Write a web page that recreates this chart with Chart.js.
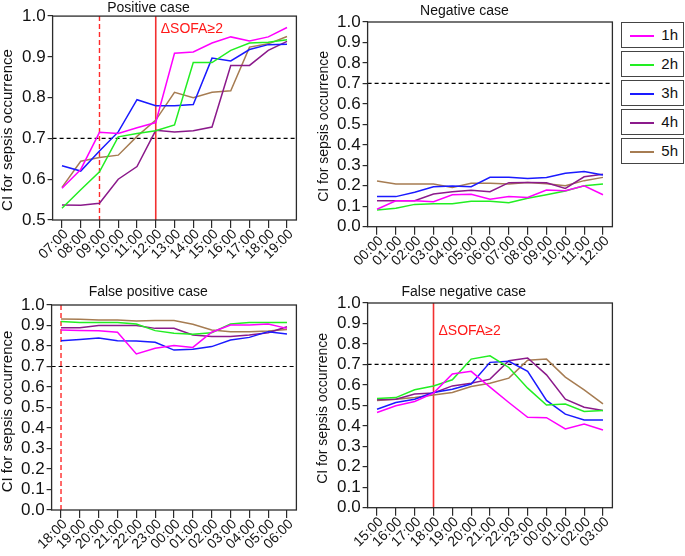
<!DOCTYPE html>
<html>
<head>
<meta charset="utf-8">
<script src="https://cdn.jsdelivr.net/npm/chart.js@4/dist/chart.umd.min.js"></script>
<style>
  body { margin: 0; background: #fff; font-family: "Liberation Sans", Arial, sans-serif; }
  #wrap { position: relative; width: 685px; height: 556px; }
  .panel { position: absolute; }
  .lg { position: absolute; left: 621px; width: 61px; height: 24px; border: 1px solid #444; box-sizing: content-box; }
  .lg span.ln { position: absolute; left: 8px; top: 12px; width: 24px; height: 1.5px; }
  .lg span.tx { position: absolute; right: 5px; top: 3px; font-size: 15px; color: #111; }
</style>
</head>
<body>
<div id="wrap">
  <div class="panel" style="left:0;top:0;width:300px;height:280px"><canvas id="pPos"></canvas></div>
  <div class="panel" style="left:300px;top:0;width:318px;height:280px"><canvas id="pNeg"></canvas></div>
  <div class="panel" style="left:0;top:280px;width:300px;height:276px"><canvas id="pFp"></canvas></div>
  <div class="panel" style="left:300px;top:280px;width:318px;height:276px"><canvas id="pFn"></canvas></div>
  <div id="legend"></div>
</div>
<script>
const seriesNames = ["1h", "2h", "3h", "4h", "5h"];
const seriesColors = ["#ff00ff", "#22ee22", "#1a1aff", "#8b1a8b", "#a67c52"];

// Positive case
const posHours = ["07:00", "08:00", "09:00", "10:00", "11:00", "12:00", "13:00", "14:00", "15:00", "16:00", "17:00", "18:00", "19:00"];
const pos1h = [0.578, 0.624, 0.715, 0.712, 0.726, 0.739, 0.909, 0.912, 0.934, 0.949, 0.939, 0.949, 0.972];
const pos2h = [0.529, 0.574, 0.618, 0.704, 0.712, 0.719, 0.733, 0.886, 0.886, 0.916, 0.934, 0.936, 0.942];
const pos3h = [0.633, 0.620, 0.669, 0.716, 0.795, 0.780, 0.780, 0.783, 0.897, 0.890, 0.918, 0.930, 0.931];
const pos4h = [0.537, 0.536, 0.541, 0.600, 0.631, 0.720, 0.716, 0.719, 0.728, 0.879, 0.879, 0.916, 0.938];
const pos5h = [0.580, 0.644, 0.653, 0.659, 0.705, 0.745, 0.813, 0.800, 0.813, 0.817, 0.924, 0.932, 0.950];

// Negative case
const negHours = ["00:00", "01:00", "02:00", "03:00", "04:00", "05:00", "06:00", "07:00", "08:00", "09:00", "10:00", "11:00", "12:00"];
const neg1h = [0.085, 0.127, 0.127, 0.122, 0.156, 0.158, 0.134, 0.147, 0.143, 0.179, 0.176, 0.200, 0.156];
const neg2h = [0.082, 0.090, 0.109, 0.112, 0.112, 0.124, 0.124, 0.117, 0.139, 0.156, 0.174, 0.200, 0.209];
const neg3h = [0.147, 0.147, 0.168, 0.195, 0.199, 0.195, 0.241, 0.241, 0.235, 0.240, 0.261, 0.270, 0.253];
const neg4h = [0.127, 0.127, 0.127, 0.160, 0.171, 0.178, 0.171, 0.215, 0.216, 0.215, 0.187, 0.244, 0.256];
const neg5h = [0.223, 0.209, 0.209, 0.209, 0.192, 0.212, 0.212, 0.209, 0.216, 0.210, 0.200, 0.225, 0.241];

// False positive case
const fpHours = ["18:00", "19:00", "20:00", "21:00", "22:00", "23:00", "00:00", "01:00", "02:00", "03:00", "04:00", "05:00", "06:00"];
const fp1h = [0.878, 0.876, 0.874, 0.867, 0.761, 0.789, 0.802, 0.793, 0.867, 0.902, 0.902, 0.907, 0.886];
const fp2h = [0.919, 0.915, 0.915, 0.915, 0.907, 0.875, 0.862, 0.857, 0.865, 0.907, 0.915, 0.915, 0.915];
const fp3h = [0.826, 0.832, 0.839, 0.826, 0.824, 0.818, 0.780, 0.784, 0.797, 0.829, 0.842, 0.870, 0.859];
const fp4h = [0.889, 0.889, 0.900, 0.900, 0.900, 0.886, 0.886, 0.854, 0.846, 0.846, 0.854, 0.865, 0.894];
const fp5h = [0.932, 0.930, 0.927, 0.927, 0.922, 0.924, 0.924, 0.906, 0.878, 0.870, 0.870, 0.873, 0.881];

// False negative case
const fnHours = ["15:00", "16:00", "17:00", "18:00", "19:00", "20:00", "21:00", "22:00", "23:00", "00:00", "01:00", "02:00", "03:00"];
const fn1h = [0.465, 0.498, 0.519, 0.560, 0.653, 0.666, 0.589, 0.514, 0.442, 0.440, 0.385, 0.409, 0.380];
const fn2h = [0.533, 0.538, 0.576, 0.595, 0.625, 0.726, 0.742, 0.685, 0.584, 0.502, 0.506, 0.470, 0.475];
const fn3h = [0.481, 0.514, 0.530, 0.563, 0.579, 0.604, 0.710, 0.715, 0.666, 0.524, 0.457, 0.429, 0.429];
const fn4h = [0.527, 0.530, 0.555, 0.560, 0.595, 0.608, 0.628, 0.718, 0.731, 0.649, 0.530, 0.491, 0.475];
const fn5h = [0.524, 0.530, 0.538, 0.551, 0.563, 0.592, 0.608, 0.633, 0.720, 0.726, 0.638, 0.576, 0.507];

const threshold = 0.7;
const sofaLabel = "\u0394SOFA\u22652";
const yTitle = "CI for sepsis occurrence";
const FONT = "'Liberation Sans', Arial, sans-serif";

/* threshold line, red markers, frame, rotated hour labels, y title */
const markers = {
    id: "markers",
    beforeDatasetsDraw(chart, args, opts) {
        const { ctx, chartArea: a, scales: { x, y } } = chart;
        ctx.save();
        ctx.lineWidth = 1.2;
        ctx.strokeStyle = "#000";
        ctx.setLineDash([4, 3]);
        const ty = y.getPixelForValue(threshold);
        ctx.beginPath();
        ctx.moveTo(a.left, ty);
        ctx.lineTo(a.right, ty);
        ctx.stroke();

        (opts.dashed || []).forEach(lbl => {
            const px = x.getPixelForValue(chart.data.labels.indexOf(lbl));
            ctx.strokeStyle = "#ff2a2a";
            ctx.lineWidth = 1.4;
            ctx.setLineDash([5, 3]);
            ctx.beginPath();
            ctx.moveTo(px, a.top);
            ctx.lineTo(px, a.bottom);
            ctx.stroke();
        });
        (opts.solid || []).forEach(lbl => {
            const px = x.getPixelForValue(chart.data.labels.indexOf(lbl));
            ctx.strokeStyle = "#f23030";
            ctx.lineWidth = 1.6;
            ctx.setLineDash([]);
            ctx.beginPath();
            ctx.moveTo(px, a.top);
            ctx.lineTo(px, a.bottom);
            ctx.stroke();
            ctx.fillStyle = "#ff1a1a";
            ctx.font = "14px " + FONT;
            ctx.textBaseline = "middle";
            ctx.fillText(sofaLabel, px + 5, y.getPixelForValue(opts.textAt));
        });
        ctx.restore();
    },
    afterDatasetsDraw(chart, args, opts) {
        const { ctx, chartArea: a, scales: { x } } = chart;
        ctx.save();
        ctx.strokeStyle = "#2b2b2b";
        ctx.lineWidth = 1.3;
        ctx.strokeRect(a.left, a.top, a.right - a.left, a.bottom - a.top);

        // hour labels at 45 degrees, ending at the tick
        ctx.fillStyle = "#111";
        ctx.font = "14px " + FONT;
        ctx.textAlign = "right";
        ctx.textBaseline = "middle";
        chart.data.labels.forEach((lbl, i) => {
            const px = x.getPixelForTick(i);
            ctx.save();
            ctx.translate(px + 4, a.bottom + 12);
            ctx.rotate(-Math.PI / 4);
            ctx.fillText(lbl, 0, 0);
            ctx.restore();
        });

        // y axis title
        ctx.font = opts.yTitleSize + "px " + FONT;
        ctx.textAlign = "center";
        ctx.translate(opts.yTitleX, (a.top + a.bottom) / 2 + opts.yTitleShift);
        ctx.rotate(-Math.PI / 2);
        ctx.fillText(yTitle, 0, 0);
        ctx.restore();
    }
};

function makePanel(id, title, labels, series, cfg) {
    const datasets = series.map((d, i) => ({
        label: seriesNames[i],
        data: d,
        borderColor: seriesColors[i],
        borderWidth: 1.5,
        pointRadius: 0,
        tension: 0,
        fill: false
    }));

    return new Chart(document.getElementById(id), {
        type: "line",
        data: { labels: labels, datasets: datasets },
        plugins: [markers],
        options: {
            responsive: true,
            maintainAspectRatio: false,
            animation: false,
            layout: { padding: cfg.padding },
            plugins: {
                legend: { display: false },
                tooltip: { enabled: false },
                title: {
                    display: true,
                    text: title,
                    color: "#111",
                    font: { family: FONT, size: 14, weight: "normal", lineHeight: 1.15 },
                    padding: cfg.titlePad
                },
                markers: cfg.markers
            },
            scales: {
                x: {
                    type: "category",
                    offset: true,
                    border: { display: false },
                    grid: { drawOnChartArea: false, drawTicks: true, offset: false, tickLength: 8, tickColor: "#2b2b2b", lineWidth: 1.2 },
                    ticks: { display: false, autoSkip: false },
                    afterFit: s => { s.height = cfg.xHeight; }
                },
                y: {
                    min: cfg.yMin,
                    max: 1.0,
                    border: { display: false },
                    grid: { drawOnChartArea: false, drawTicks: true, tickLength: 5, tickColor: "#2b2b2b", lineWidth: 1.2 },
                    ticks: {
                        stepSize: 0.1,
                        autoSkip: false,
                        color: "#111",
                        font: { family: FONT, size: 17 },
                        padding: 2,
                        callback: v => Number(v).toFixed(1)
                    },
                    afterFit: s => { s.width = cfg.yWidth; }
                }
            }
        }
    });
}

makePanel("pPos", "Positive case", posHours, [pos1h, pos2h, pos3h, pos4h, pos5h], {
    padding: { left: 0.5, right: 3.6, top: 0, bottom: 0 },
    titlePad: { top: 0, bottom: 0 },
    yWidth: 52.1, xHeight: 60, yMin: 0.5,
    markers: { dashed: ["09:00"], solid: ["12:00"], textAt: 0.968, yTitleX: 8, yTitleShift: 12, yTitleSize: 15 }
});

makePanel("pNeg", "Negative case", negHours, [neg1h, neg2h, neg3h, neg4h, neg5h], {
    padding: { left: 16.5, right: 5.6, top: 3, bottom: 0 },
    titlePad: { top: 0, bottom: 2.9 },
    yWidth: 51.1, xHeight: 53.3, yMin: 0,
    markers: { yTitleX: 24, yTitleShift: 2, yTitleSize: 14 }
});

makePanel("pFp", "False positive case", fpHours, [fp1h, fp2h, fp3h, fp4h, fp5h], {
    padding: { left: 0, right: 3.6, top: 4, bottom: 0 },
    titlePad: { top: 0, bottom: 4.9 },
    yWidth: 51.6, xHeight: 46, yMin: 0,
    markers: { dashed: ["18:00"], yTitleX: 8, yTitleShift: 4, yTitleSize: 15 }
});

makePanel("pFn", "False negative case", fnHours, [fn1h, fn2h, fn3h, fn4h, fn5h], {
    padding: { left: 15, right: 5.6, top: 4, bottom: 0 },
    titlePad: { top: 0, bottom: 2.9 },
    yWidth: 52.6, xHeight: 48.3, yMin: 0,
    markers: { solid: ["18:00"], textAt: 0.861, yTitleX: 23, yTitleShift: 3, yTitleSize: 14 }
});

// boxed legend at the right of the negative-case panel
const legendTops = [22, 51, 80, 109, 138];
const legend = document.getElementById("legend");
seriesNames.forEach((name, i) => {
    const box = document.createElement("div");
    box.className = "lg";
    box.style.top = legendTops[i] + "px";
    box.innerHTML = `<span class="ln" style="background:${seriesColors[i]}"></span><span class="tx">${name}</span>`;
    legend.appendChild(box);
});
</script>
</body>
</html>
